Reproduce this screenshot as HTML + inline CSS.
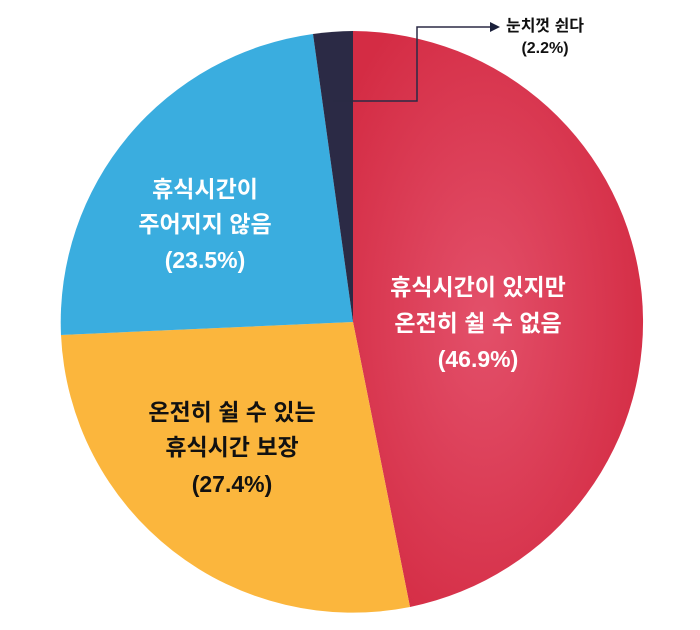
<!DOCTYPE html>
<html><head><meta charset="utf-8"><style>
html,body{margin:0;padding:0;background:#fff;}
svg{display:block;}
text{font-family:"Liberation Sans","Noto Sans CJK KR",sans-serif;font-weight:bold;}
</style></head><body>
<svg width="700" height="630" viewBox="0 0 700 630" xmlns="http://www.w3.org/2000/svg">
<defs>
<radialGradient id="rg" cx="0.45" cy="0.5" r="0.6">
<stop offset="0" stop-color="#e3506a"/><stop offset="1" stop-color="#d42c44"/>
</radialGradient>
</defs>
<g transform="translate(353,322)">
<path d="M0,0 L0,-291 A292,291 0 0,1 57,285 Z" fill="url(#rg)"/>
<path d="M0,0 L57,285 A292,291 0 0,1 -292,13 Z" fill="#fbb63d"/>
<path d="M0,0 L-292,13 A292,291 0 0,1 -40,-288 Z" fill="#3aaddf"/>
<path d="M0,0 L-40,-288 A292,291 0 0,1 0,-291 Z" fill="#2b2a45"/>
</g>
<polyline points="333,101 417,101 417,27 490,27" fill="none" stroke="#2b2a45" stroke-width="1.5"/>
<polygon points="490,22 500,27 490,32" fill="#1a1f3a"/>
<text x="545" y="31" font-size="16" text-anchor="middle" fill="#111">눈치껏 쉰다</text>
<text x="545" y="53" font-size="16" text-anchor="middle" fill="#111">(2.2%)</text>
<g font-size="23" text-anchor="middle" fill="#fff">
<text x="205" y="197">휴식시간이</text>
<text x="205" y="232">주어지지 않음</text>
<text x="205" y="268">(23.5%)</text>
<text x="478" y="295">휴식시간이 있지만</text>
<text x="478" y="331">온전히 쉴 수 없음</text>
<text x="478" y="367">(46.9%)</text>
</g>
<g font-size="23" text-anchor="middle" fill="#111">
<text x="232" y="420">온전히 쉴 수 있는</text>
<text x="232" y="455">휴식시간 보장</text>
<text x="232" y="492">(27.4%)</text>
</g>
</svg>
</body></html>
